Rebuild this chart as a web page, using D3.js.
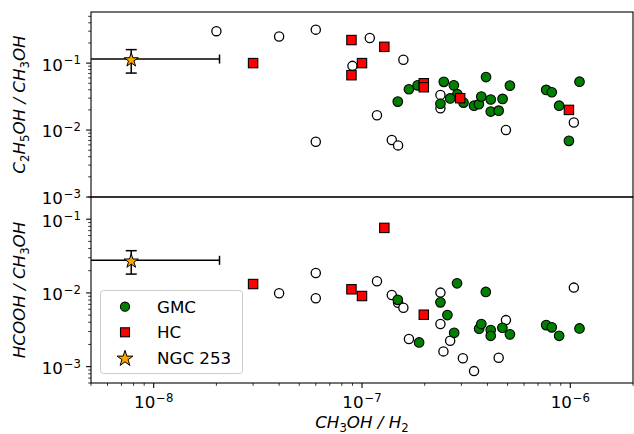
<!DOCTYPE html>
<html><head><meta charset="utf-8">
<script src="https://cdn.jsdelivr.net/npm/d3@7"></script>
<style>body{margin:0;background:#fff}svg{display:block}text{font-family:"DejaVu Sans",sans-serif}</style>
</head><body><svg id="c" width="634" height="434"></svg>
<script>
const xTicks = [1e-8, 1e-7, 1e-6];
const yTicks = [1e-3, 1e-2, 1e-1];

const topWhiteX = [2e-8, 4e-8, 6e-8, 6e-8, 9e-8, 1.09e-7, 1.18e-7, 1.39e-7, 1.49e-7, 1.58e-7, 2.38e-7, 2.38e-7, 4.91e-7, 1.04e-6];
const topWhiteY = [0.3, 0.25, 0.316, 0.0067, 0.091, 0.237, 0.0166, 0.0071, 0.0059, 0.112, 0.0335, 0.0211, 0.01, 0.013];
const topGreenX = [1.485e-7, 1.68e-7, 1.85e-7, 2.47e-7, 2.76e-7, 2.87e-7, 2.65e-7, 3.07e-7, 2.38e-7, 3.45e-7, 3.64e-7, 3.74e-7, 3.94e-7, 4.15e-7, 4.15e-7, 4.53e-7, 4.73e-7, 5.13e-7, 7.66e-7, 8.15e-7, 8.84e-7, 9.85e-7, 1.107e-6];
const topGreenY = [0.0266, 0.0407, 0.0465, 0.0525, 0.0465, 0.0343, 0.0297, 0.0257, 0.0247, 0.0231, 0.0243, 0.0316, 0.0619, 0.0286, 0.0189, 0.0195, 0.0292, 0.0461, 0.0398, 0.0367, 0.0231, 0.0069, 0.0528];
const topRedX = [3e-8, 8.9e-8, 8.9e-8, 1e-7, 1.28e-7, 1.98e-7, 1.98e-7, 2.96e-7, 9.85e-7];
const topRedY = [0.1, 0.221, 0.066, 0.1, 0.175, 0.05, 0.0436, 0.0299, 0.02];

const bottomWhiteX = [4e-8, 6e-8, 6e-8, 1.18e-7, 1.39e-7, 1.49e-7, 1.58e-7, 1.68e-7, 2.38e-7, 2.38e-7, 2.46e-7, 2.65e-7, 3.05e-7, 3.45e-7, 4.53e-7, 4.91e-7, 1.04e-6];
const bottomWhiteY = [0.0099, 0.0186, 0.00845, 0.0144, 0.00935, 0.00736, 0.0063, 0.00237, 0.0101, 0.00378, 0.00161, 0.00224, 0.0013, 0.00087, 0.00132, 0.00428, 0.0118];
const bottomGreenX = [1.485e-7, 1.88e-7, 2.38e-7, 2.57e-7, 2.77e-7, 2.86e-7, 3.65e-7, 3.74e-7, 3.93e-7, 4.15e-7, 4.15e-7, 4.72e-7, 5.13e-7, 7.66e-7, 8.15e-7, 8.84e-7, 1.107e-6];
const bottomGreenY = [0.00805, 0.00213, 0.00745, 0.00501, 0.00288, 0.0135, 0.00327, 0.00378, 0.0103, 0.00313, 0.00262, 0.00337, 0.00274, 0.00366, 0.00341, 0.00262, 0.0033];
const bottomRedX = [3e-8, 8.9e-8, 1e-7, 1.28e-7, 1.98e-7];
const bottomRedY = [0.0132, 0.0112, 0.00908, 0.0762, 0.00506];

const ngcX = [7.8e-9];
const ngcXErr = [1.29e-8];
const ngcTopY = [0.115];
const ngcTopErr = [0.044];
const ngcBottomY = [0.0277];
const ngcBottomErr = [0.0097];

const legendLabels = ["GMC", "HC", "NGC 253"];

const svg = d3.select("#c");
const L = 91, R = 633;
const FS = 16.7;
const x = d3.scaleLog().domain([5e-9, 2e-6]).range([L, R]);
const panels = [
  {top: 12, bottom: 197, dom: [1e-3, 0.58], white: [topWhiteX, topWhiteY], green: [topGreenX, topGreenY], red: [topRedX, topRedY], ngcY: ngcTopY, ngcErr: ngcTopErr,
   label: [["C", 0], ["2", 1], ["H", 0], ["5", 1], ["OH / CH", 0], ["3", 1], ["OH", 0]]},
  {top: 197, bottom: 383, dom: [6e-4, 0.2], white: [bottomWhiteX, bottomWhiteY], green: [bottomGreenX, bottomGreenY], red: [bottomRedX, bottomRedY], ngcY: ngcBottomY, ngcErr: ngcBottomErr,
   label: [["HCOOH / CH", 0], ["3", 1], ["OH", 0]]}
];

function powLabel(sel, v) {
  const e = Math.round(Math.log10(v));
  sel.append("tspan").text("10");
  sel.append("tspan").attr("font-size", 11.7).attr("dx", 0.8).attr("dy", -6.4).text("\u2212" + Math.abs(e));
}
function minorTicks(dom) {
  const out = [];
  const lo = Math.floor(Math.log10(dom[0])), hi = Math.ceil(Math.log10(dom[1]));
  for (let e = lo; e <= hi; e++) for (let m = 2; m <= 9; m++) {
    const v = m * Math.pow(10, e);
    if (v >= dom[0] * 0.999 && v <= dom[1] * 1.001) out.push(v);
  }
  return out;
}

panels.forEach((p, i) => {
  const y = d3.scaleLog().domain(p.dom).range([p.bottom, p.top]);
  const g = svg.append("g");
  const clipId = "clip" + i;
  svg.append("clipPath").attr("id", clipId).append("rect").attr("x", L).attr("y", p.top).attr("width", R - L).attr("height", p.bottom - p.top);
  const plot = g.append("g").attr("clip-path", `url(#${clipId})`);

  plot.selectAll(".w").data(d3.range(p.white[0].length)).join("circle")
    .attr("cx", j => x(p.white[0][j])).attr("cy", j => y(p.white[1][j])).attr("r", 4.6)
    .attr("fill", "#fff").attr("stroke", "#000").attr("stroke-width", 1.3);
  plot.selectAll(".gc").data(d3.range(p.green[0].length)).join("circle")
    .attr("cx", j => x(p.green[0][j])).attr("cy", j => y(p.green[1][j])).attr("r", 4.8)
    .attr("fill", "green").attr("stroke", "#000").attr("stroke-width", 1.1);
  const s = 9.4;
  plot.selectAll(".rs").data(d3.range(p.red[0].length)).join("rect")
    .attr("x", j => x(p.red[0][j]) - s / 2).attr("y", j => y(p.red[1][j]) - s / 2).attr("width", s).attr("height", s)
    .attr("fill", "red").attr("stroke", "#000").attr("stroke-width", 1.1);
  ngcX.forEach((xv, j) => {
    const cx = x(xv), cy = y(p.ngcY[j]);
    const lo = xv - ngcXErr[j];
    const x0 = lo > 0 ? x(lo) : L - 5;
    const x1 = x(xv + ngcXErr[j]);
    const eb = plot.append("g").attr("stroke", "#000").attr("stroke-width", 1.5).attr("fill", "none");
    eb.append("line").attr("x1", x0).attr("x2", x1).attr("y1", cy).attr("y2", cy);
    eb.append("line").attr("x1", x1).attr("x2", x1).attr("y1", cy - 4.5).attr("y2", cy + 4.5);
    const y0 = y(p.ngcY[j] - p.ngcErr[j]), y1 = y(p.ngcY[j] + p.ngcErr[j]);
    eb.append("line").attr("x1", cx).attr("x2", cx).attr("y1", y0).attr("y2", y1);
    eb.append("line").attr("x1", cx - 5.5).attr("x2", cx + 5.5).attr("y1", y0).attr("y2", y0);
    eb.append("line").attr("x1", cx - 5.5).attr("x2", cx + 5.5).attr("y1", y1).attr("y2", y1);
    plot.append("path").attr("d", d3.symbol(d3.symbolStar, 62)()).attr("transform", `translate(${cx},${cy + 1})`)
      .attr("fill", "orange").attr("stroke", "#000").attr("stroke-width", 1);
  });

  g.append("rect").attr("x", L).attr("y", p.top).attr("width", R - L).attr("height", p.bottom - p.top)
    .attr("fill", "none").attr("stroke", "#000").attr("stroke-width", 1.1);

  yTicks.filter(v => v >= p.dom[0] && v <= p.dom[1]).forEach(v => {
    g.append("line").attr("x1", L - 4.9).attr("x2", L).attr("y1", y(v)).attr("y2", y(v)).attr("stroke", "#000").attr("stroke-width", 1.1);
    const t = g.append("text").attr("x", 81).attr("y", y(v) + 7.4).attr("text-anchor", "end").attr("font-size", FS).attr("fill", "#000");
    powLabel(t, v);
  });
  minorTicks(p.dom).forEach(v => {
    g.append("line").attr("x1", L - 2.8).attr("x2", L).attr("y1", y(v)).attr("y2", y(v)).attr("stroke", "#000").attr("stroke-width", 0.8);
  });

  const cyL = (p.top + p.bottom) / 2;
  const yl = g.append("text").attr("transform", `translate(25,${cyL}) rotate(-90)`).attr("text-anchor", "middle")
    .attr("font-size", FS).attr("font-style", "italic").attr("fill", "#000");
  p.label.forEach(([t, sub], k) => {
    const ts = yl.append("tspan").text(t);
    const prevSub = k > 0 && p.label[k - 1][1];
    if (sub) ts.attr("font-size", FS * 0.7).attr("font-style", "normal").attr("dy", 4);
    else if (prevSub) ts.attr("dy", -4);
  });
});

const xb = 383;
xTicks.forEach(v => {
  svg.append("line").attr("x1", x(v)).attr("x2", x(v)).attr("y1", xb).attr("y2", xb + 4.9).attr("stroke", "#000").attr("stroke-width", 1.1);
  const t = svg.append("text").attr("x", x(v)).attr("y", 408).attr("text-anchor", "middle").attr("font-size", FS).attr("fill", "#000");
  powLabel(t, v);
});
minorTicks(x.domain()).forEach(v => {
  svg.append("line").attr("x1", x(v)).attr("x2", x(v)).attr("y1", xb).attr("y2", xb + 2.8).attr("stroke", "#000").attr("stroke-width", 0.8);
});
const xl = svg.append("text").attr("x", (L + R) / 2).attr("y", 428).attr("text-anchor", "middle")
  .attr("font-size", FS).attr("font-style", "italic").attr("fill", "#000");
[["CH", 0], ["3", 1], ["OH / H", 0], ["2", 1]].forEach(([t, sub], k, arr) => {
  const ts = xl.append("tspan").text(t);
  if (sub) ts.attr("font-size", FS * 0.7).attr("font-style", "normal").attr("dy", 4);
  else if (k > 0 && arr[k - 1][1]) ts.attr("dy", -4);
});

const lg = svg.append("g");
lg.append("rect").attr("x", 100.5).attr("y", 290.5).attr("width", 142).attr("height", 83).attr("rx", 3)
  .attr("fill", "#fff").attr("fill-opacity", 0.8).attr("stroke", "#cccccc").attr("stroke-width", 1);
const ly = [306.7, 332.3, 357.7];
lg.append("circle").attr("cx", 125).attr("cy", ly[0]).attr("r", 4.6).attr("fill", "green").attr("stroke", "#000").attr("stroke-width", 1.1);
lg.append("rect").attr("x", 125 - 4.5).attr("y", ly[1] - 4.5).attr("width", 9).attr("height", 9).attr("fill", "red").attr("stroke", "#000").attr("stroke-width", 1.1);
lg.append("path").attr("d", d3.symbol(d3.symbolStar, 78)()).attr("transform", `translate(125,${ly[2] + 1})`)
  .attr("fill", "orange").attr("stroke", "#000").attr("stroke-width", 1);
legendLabels.forEach((t, k) => {
  lg.append("text").attr("x", 157).attr("y", ly[k] + 6).attr("font-size", FS).attr("fill", "#000").text(t);
});
</script></body></html>
